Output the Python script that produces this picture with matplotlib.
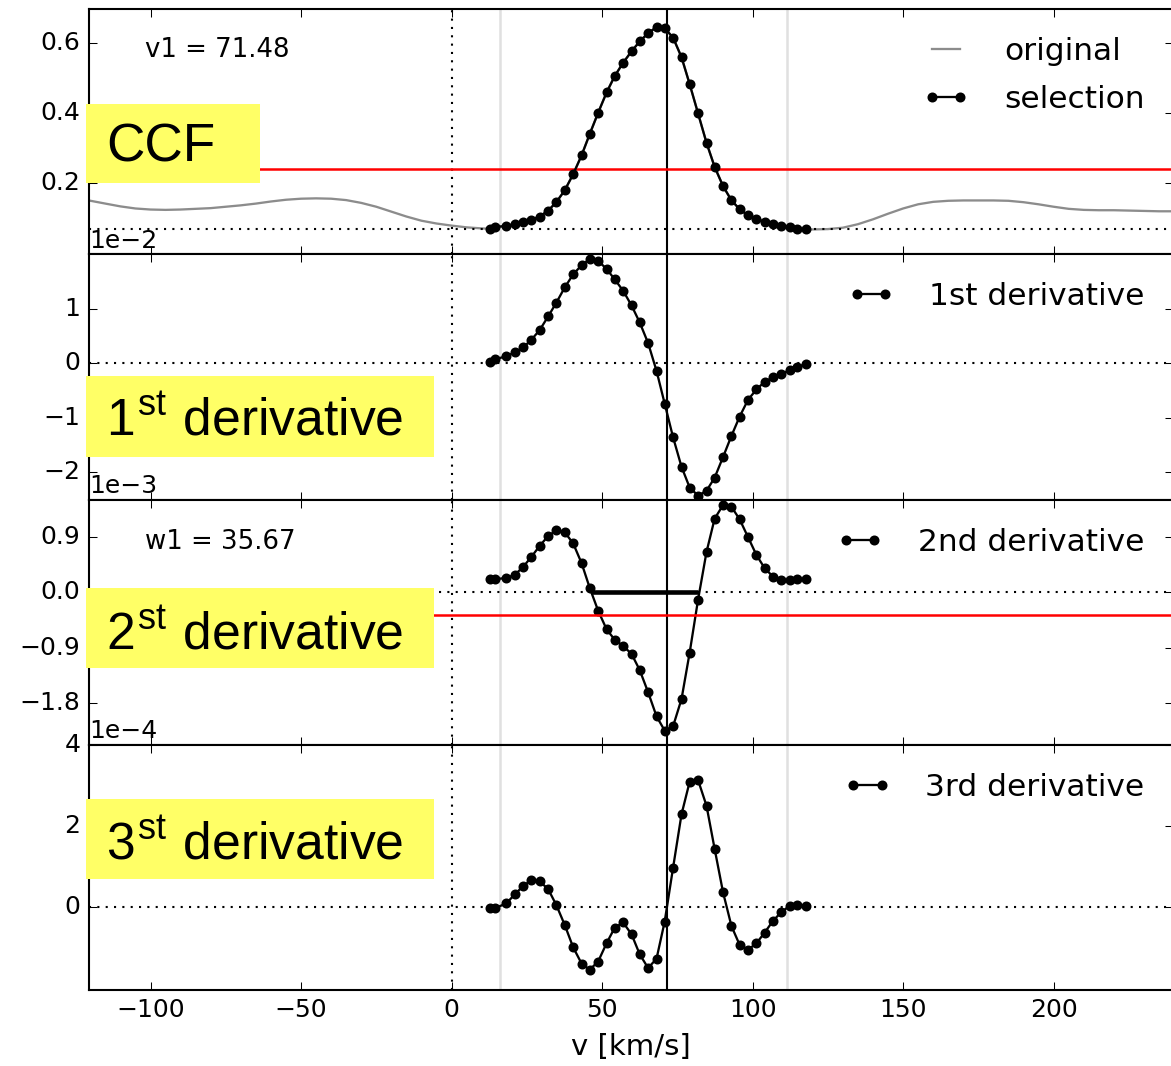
import numpy as np
import matplotlib
matplotlib.use("Agg")
import matplotlib.pyplot as plt
from matplotlib.patches import Rectangle

plt.style.use("classic")

W, H, DPI = 1171, 1066, 150

# -- Data --
# selected velocity window (km/s)
v_sel = [12.7, 14.4, 18.2, 21.0, 23.8, 26.5, 29.3, 32.1, 34.8, 37.6, 40.4, 43.2, 45.9,
         48.7, 51.5, 54.2, 57.0, 59.8, 62.5, 65.3, 68.1, 70.8, 73.6, 76.4, 79.1, 81.9,
         84.7, 87.4, 90.2, 93.0, 95.7, 98.5, 101.3, 104.0, 106.8, 109.6, 112.4, 114.9, 117.7]
ccf_sel = [0.069, 0.074, 0.077, 0.082, 0.088, 0.095, 0.104, 0.121, 0.145, 0.179, 0.225,
           0.279, 0.340, 0.401, 0.459, 0.506, 0.544, 0.577, 0.605, 0.629, 0.646, 0.643,
           0.616, 0.560, 0.483, 0.399, 0.315, 0.246, 0.191, 0.150, 0.125, 0.107, 0.097,
           0.089, 0.083, 0.078, 0.073, 0.069, 0.067]
d1_sel = [0.03, 0.07, 0.13, 0.20, 0.29, 0.43, 0.61, 0.86, 1.11, 1.39, 1.63, 1.80, 1.91,
          1.88, 1.73, 1.54, 1.33, 1.06, 0.75, 0.37, -0.14, -0.74, -1.36, -1.90, -2.28,
          -2.43, -2.34, -2.10, -1.72, -1.33, -0.98, -0.67, -0.48, -0.34, -0.26, -0.20,
          -0.12, -0.06, -0.02]  # x 1e-2
d2_sel = [0.21, 0.21, 0.23, 0.28, 0.41, 0.57, 0.75, 0.91, 1.00, 0.97, 0.79, 0.47, 0.07,
          -0.30, -0.60, -0.77, -0.87, -1.00, -1.26, -1.62, -2.01, -2.24, -2.17, -1.73,
          -0.98, -0.12, 0.65, 1.19, 1.41, 1.38, 1.18, 0.89, 0.60, 0.39, 0.25, 0.19,
          0.20, 0.21, 0.21]  # x 1e-3
d3_sel = [-0.02, -0.02, 0.10, 0.32, 0.53, 0.67, 0.64, 0.45, 0.06, -0.43, -0.98, -1.38,
          -1.53, -1.33, -0.88, -0.50, -0.37, -0.66, -1.15, -1.49, -1.26, -0.35, 0.98,
          2.29, 3.09, 3.13, 2.50, 1.44, 0.37, -0.46, -0.92, -1.04, -0.88, -0.62, -0.33,
          -0.11, 0.04, 0.07, 0.03]  # x 1e-4

# full CCF outside the selection
v_left = [-120.5, -115, -110, -105, -100, -95, -90, -85, -80, -75, -70, -65, -60, -55,
          -50, -45, -40, -35, -30, -25, -20, -15, -10, -5, 0, 5, 10]
ccf_left = [0.150, 0.141, 0.133, 0.127, 0.124, 0.123, 0.124, 0.126, 0.128, 0.132, 0.136,
            0.141, 0.147, 0.152, 0.155, 0.156, 0.155, 0.151, 0.143, 0.132, 0.118, 0.104,
            0.092, 0.084, 0.078, 0.073, 0.070]
v_right = [120, 125, 130, 135, 140, 145, 150, 155, 160, 165, 170, 175, 180, 185, 190,
           195, 200, 205, 210, 215, 220, 225, 230, 235, 239.5]
ccf_right = [0.067, 0.068, 0.072, 0.082, 0.096, 0.112, 0.127, 0.139, 0.146, 0.149, 0.150,
             0.150, 0.150, 0.149, 0.145, 0.139, 0.132, 0.126, 0.123, 0.122, 0.122, 0.121,
             0.120, 0.119, 0.119]

V1 = 71.48
W1 = 35.67
W1_START = 46.2
SEL_EDGES = [16.0, 111.5]
CCF_LEVEL = 0.240
D2_LEVEL = -0.367e-3

LEGEND_KW = dict(loc="upper right", frameon=False, fontsize=15, numpoints=2,
                 handlelength=1.5, handletextpad=1.1, labelspacing=0.6)
SEL_STYLE = dict(color="k", lw=1.1, marker="o", ms=4.0, mew=0.8, mec="k", mfc="k")


def px_fig(x, y):
    return x / W, 1 - y / H


fig, axes = plt.subplots(4, 1, sharex=True, figsize=(W / DPI, H / DPI), dpi=DPI)
fig.subplots_adjust(left=88.8 / W, right=1172.5 / W, top=1 - 9 / H, bottom=1 - 990 / H,
                    hspace=0)

for ax in axes:
    ax.axvline(0, color="k", ls=":", lw=1.0)
    for edge in SEL_EDGES:
        ax.axvline(edge, color="0.88", lw=1.2)
    ax.axvline(V1, color="k", lw=1.0)

# CCF panel
ax = axes[0]
v_orig = v_left + v_sel + v_right
ccf_orig = ccf_left + ccf_sel + ccf_right
ax.plot(v_orig, ccf_orig, color="0.55", lw=1.1, label="original")
ax.axhline(CCF_LEVEL, color="r", lw=1.2)
ax.axhline(min(ccf_sel), color="k", ls=":", lw=1.0)
ax.plot(v_sel, ccf_sel, label="selection", **SEL_STYLE)
ax.set_ylim(-0.004, 0.698)
ax.set_yticks([0.2, 0.4, 0.6])
ax.text(0.052, 0.804, f"v1 = {V1:.2f}", transform=ax.transAxes, fontsize=12.5)
ax.legend(**LEGEND_KW)

# derivatives
derivs = [
    (axes[1], np.array(d1_sel) * 1e-2, "1st derivative", (-2.5e-2, 2.0e-2), [-2e-2, -1e-2, 0, 1e-2]),
    (axes[2], np.array(d2_sel) * 1e-3, "2nd derivative", (-2.47e-3, 1.50e-3), [-1.8e-3, -0.9e-3, 0, 0.9e-3]),
    (axes[3], np.array(d3_sel) * 1e-4, "3rd derivative", (-2.03e-4, 4.0e-4), [0, 2e-4, 4e-4]),
]
for ax, vals, label, ylim, yticks in derivs:
    ax.axhline(0, color="k", ls=":", lw=1.0)
    ax.plot(v_sel, vals, label=label, **SEL_STYLE)
    ax.set_ylim(*ylim)
    ax.set_yticks(yticks)
    ax.ticklabel_format(axis="y", style="sci", scilimits=(0, 0))
    ax.legend(**LEGEND_KW)

ax = axes[2]
ax.axhline(D2_LEVEL, color="r", lw=1.2)
ax.hlines(0, W1_START, W1_START + W1, color="k", lw=2.2)
ax.text(0.052, 0.798, f"w1 = {W1:.2f}", transform=ax.transAxes, fontsize=12.5)

axes[-1].set_xlim(-120.5, 239.5)
axes[-1].set_xticks([-100, -50, 0, 50, 100, 150, 200])
axes[-1].set_xlabel("v [km/s]", fontsize=14)

# yellow labels pasted over the panels
boxes = [
    ((86, 104, 260, 182.7), "CCF", 161.7, 25.5),
    ((86, 376, 433.6, 456.7), r"1$^{\mathdefault{st}}$ derivative", 435, 24.8),
    ((86, 588.3, 433.6, 668.3), r"2$^{\mathdefault{st}}$ derivative", 648.3, 24.8),
    ((86, 799.3, 433.6, 879.3), r"3$^{\mathdefault{st}}$ derivative", 858.3, 24.8),
]
for (x0, y0, x1, y1), txt, base, size in boxes:
    fx, fy = px_fig(x0, y1)
    fig.add_artist(Rectangle((fx, fy), (x1 - x0) / W, (y1 - y0) / H,
                             transform=fig.transFigure, facecolor="#ffff66",
                             edgecolor="none", zorder=5))
    tx, ty = px_fig(106, base)
    fig.text(tx, ty, txt, fontsize=size, family="Liberation Sans", va="baseline",
             ha="left", zorder=6)

fig.savefig("out.png", dpi=DPI, facecolor="white")
